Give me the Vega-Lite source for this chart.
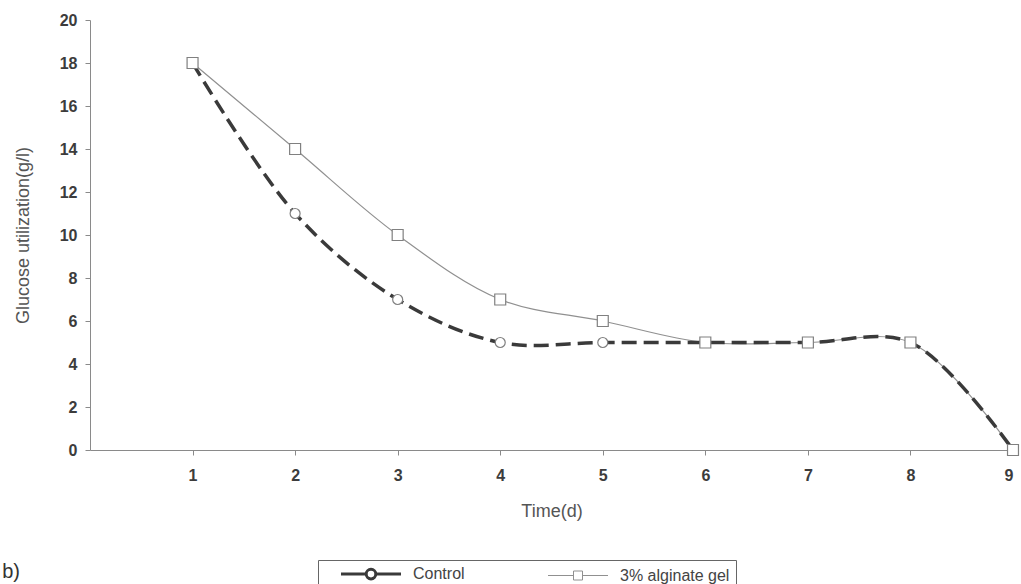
{
  "$schema": "https://vega.github.io/schema/vega-lite/v6.json",
  "width": 923,
  "height": 430,
  "autosize": {"type": "none"},
  "padding": {"left": 90, "top": 20, "right": 8, "bottom": 134},
  "background": "white",
  "data": {
    "values": [
      {"series": "Control", "time": 1, "value": 18},
      {"series": "Control", "time": 2, "value": 11},
      {"series": "Control", "time": 3, "value": 7},
      {"series": "Control", "time": 4, "value": 5},
      {"series": "Control", "time": 5, "value": 5},
      {"series": "Control", "time": 6, "value": 5},
      {"series": "Control", "time": 7, "value": 5},
      {"series": "Control", "time": 8, "value": 5},
      {"series": "Control", "time": 9, "value": 0},
      {"series": "3% alginate gel", "time": 1, "value": 18},
      {"series": "3% alginate gel", "time": 2, "value": 14},
      {"series": "3% alginate gel", "time": 3, "value": 10},
      {"series": "3% alginate gel", "time": 4, "value": 7},
      {"series": "3% alginate gel", "time": 5, "value": 6},
      {"series": "3% alginate gel", "time": 6, "value": 5},
      {"series": "3% alginate gel", "time": 7, "value": 5},
      {"series": "3% alginate gel", "time": 8, "value": 5},
      {"series": "3% alginate gel", "time": 9, "value": 0}
    ]
  },
  "config": {
    "view": {"stroke": null},
    "axis": {
      "grid": false,
      "domainColor": "#8a8a8a",
      "tickColor": "#8a8a8a",
      "tickSize": 5,
      "labelFont": "Liberation Sans",
      "labelFontWeight": "bold",
      "labelFontSize": 16,
      "labelColor": "#3c3c3c",
      "titleFont": "Liberation Sans",
      "titleFontWeight": "normal",
      "titleFontSize": 18,
      "titleColor": "#555555"
    }
  },
  "title": {
    "text": "b)",
    "orient": "bottom",
    "anchor": "start",
    "frame": "bounds",
    "font": "Liberation Sans",
    "fontSize": 20,
    "fontWeight": "normal",
    "color": "#333333",
    "dx": -12,
    "offset": -30
  },
  "encoding": {
    "x": {
      "field": "time",
      "type": "quantitative",
      "scale": {"domain": [0, 9], "nice": false, "zero": false},
      "axis": {"values": [1, 2, 3, 4, 5, 6, 7, 8, 9], "title": "Time(d)", "labelPadding": 12, "titlePadding": 19}
    },
    "y": {
      "field": "value",
      "type": "quantitative",
      "scale": {"domain": [0, 20], "nice": false},
      "axis": {"values": [0, 2, 4, 6, 8, 10, 12, 14, 16, 18, 20], "title": "Glucose utilization(g/l)", "labelPadding": 8, "titlePadding": 27}
    }
  },
  "layer": [
    {
      "transform": [{"filter": "datum.series === '3% alginate gel'"}],
      "mark": {"type": "line", "interpolate": "catmull-rom", "strokeWidth": 1.2},
      "encoding": {
        "color": {
          "field": "series",
          "type": "nominal",
          "scale": {"domain": ["Control", "3% alginate gel"], "range": ["#3a3a3a", "#909090"]},
          "legend": {
            "title": null,
            "orient": "none",
            "legendX": 228,
            "legendY": 540,
            "direction": "horizontal",
            "strokeColor": "#666666",
            "padding": 6,
            "symbolSize": 3600,
            "symbolOffset": 39,
            "labelFont": "Liberation Sans",
            "labelFontSize": 16,
            "labelColor": "#444444",
            "labelOffset": 34,
            "columnPadding": 66,
            "encode": {
              "symbols": {
                "update": {
                  "shape": {"signal": "datum.label === 'Control' ? 'M-1,0H-0.16M0.16,0H1M-0.16,0A0.16,0.16 0 1,0 0.16,0A0.16,0.16 0 1,0 -0.16,0' : 'M-1,0H-0.15M0.15,0H1M-0.15,-0.15H0.15V0.15H-0.15Z'"},
                  "strokeWidth": {"signal": "datum.label === 'Control' ? 3 : 1"},
                  "fill": {"value": "white"}
                }
              }
            }
          }
        }
      }
    },
    {
      "transform": [{"filter": "datum.series === 'Control'"}],
      "mark": {"type": "line", "interpolate": "catmull-rom", "strokeWidth": 3.5, "strokeDash": [15, 7]},
      "encoding": {
        "color": {"field": "series", "type": "nominal"}
      }
    },
    {
      "transform": [{"filter": "datum.series === 'Control'"}],
      "mark": {"type": "point", "shape": "circle", "filled": true, "fill": "white", "stroke": "#808080", "strokeWidth": 1.2, "size": 100, "opacity": 1}
    },
    {
      "transform": [{"filter": "datum.series === '3% alginate gel'"}],
      "mark": {"type": "point", "shape": "square", "filled": true, "fill": "white", "stroke": "#808080", "strokeWidth": 1.2, "size": 120, "opacity": 1}
    }
  ]
}
